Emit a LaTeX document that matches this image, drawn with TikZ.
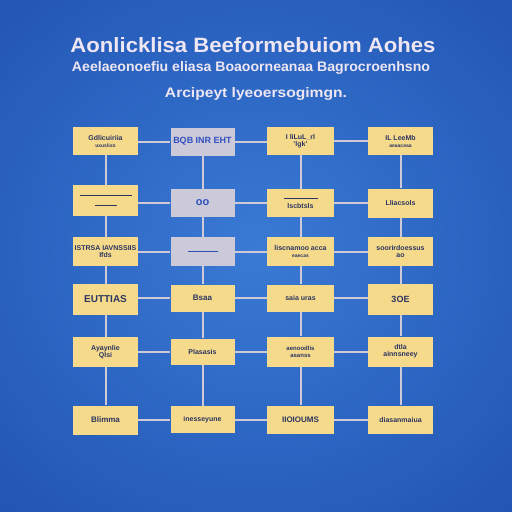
\documentclass[tikz,border=0pt]{standalone}
\usepackage{fontspec}
\setmainfont{Liberation Sans}
\usepackage{graphicx}
\definecolor{bgin}{HTML}{3A7AD4}
\definecolor{bgmid}{HTML}{2A62C0}
\definecolor{bgout}{HTML}{1C46A4}
\definecolor{boxy}{HTML}{F6DA8C}
\definecolor{boxg}{HTML}{CCCAD8}
\definecolor{linec}{HTML}{CFCAD6}
\definecolor{txtd}{HTML}{2B3560}
\definecolor{txtb}{HTML}{3050C0}
\definecolor{titlec}{HTML}{EEE6F2}
\pgfdeclareradialshading{bgshade}{\pgfpoint{0bp}{0bp}}{%
  color(0bp)=(bgin); color(18bp)=(bgmid); color(40bp)=(bgout); color(50bp)=(bgout)}
\tikzset{
  ybox/.style={draw=none,fill=boxy,minimum width=65pt,minimum height=28pt,inner sep=1pt,align=center,font=\fontsize{7}{8}\selectfont\bfseries,text=txtd},
  gbox/.style={ybox,fill=boxg,text=txtb},
  conn/.style={draw=linec,line width=2pt}
}
\begin{document}
\begin{tikzpicture}[x=1pt,y=-1pt]
\useasboundingbox (0,0) rectangle (512,512);
\shade[shading=bgshade] (-80,-60) rectangle (592,560);
% titles
\node[text=titlec,font=\bfseries] (t1) at (253,45) {\resizebox{365pt}{15pt}{Aonlicklisa Beeformebuiom Aohes}};
\node[text=titlec,font=\bfseries] (t2) at (251,68) {\resizebox{358pt}{10pt}{Aeelaeonoefiu eliasa Boaoorneanaa Bagrocroenhsno}};
\node[text=titlec,font=\bfseries] (t3) at (256,94) {\resizebox{182pt}{10pt}{Arcipeyt lyeoersogimgn.}};
% nodes
\node[ybox] (a1) at (105.5,141) {Gdlicuiriia\\[-1pt]{\fontsize{5}{6}\selectfont uxuslixo}};
\node[gbox,minimum width=64pt] (b1) at (202.5,141.5) {\fontsize{9}{10}\selectfont BQB INR EHT};
\node[ybox,minimum width=67pt] (c1) at (300.5,141) {I liLuL\_rl\\[-1pt]'lgk'};
\node[ybox] (d1) at (400.5,141) {IL LeeMb\\[-1pt]{\fontsize{5}{6}\selectfont aeaaceaa}};

\node[ybox,minimum height=31pt] (a2) at (105.5,200.5) {\rule{52pt}{1.2pt}\\[2pt]\rule{22pt}{0.8pt}};
\node[gbox,minimum width=64pt] (b2) at (202.5,203) {\fontsize{11}{11}\selectfont oo};
\node[ybox,minimum width=67pt] (c2) at (300.5,203) {\rule{34pt}{0.8pt}\\[2pt]lscbtsls};
\node[ybox,minimum height=29pt] (d2) at (400.5,203) {Lliacsols};

\node[ybox,minimum height=29pt] (a3) at (105.5,251.5) {ISTRSA IAVNSSIIS\\[-1pt]Ifds};
\node[gbox,minimum width=64pt,minimum height=29pt] (b3) at (202.5,251.5) {\textcolor{txtb}{\rule{30pt}{1.5pt}}};
\node[ybox,minimum width=67pt,minimum height=29pt] (c3) at (300.5,251.5) {liscnamoo acca\\[-1pt]{\fontsize{5}{6}\selectfont eaecas}};
\node[ybox,minimum height=29pt] (d3) at (400.5,251.5) {soorirdoessus\\[-1pt]ao};

\node[ybox,minimum height=31pt] (a4) at (105.5,299.5) {\fontsize{10}{11}\selectfont EUTTIAS};
\node[ybox,minimum width=64pt,minimum height=27pt] (b4) at (202.5,298) {\fontsize{8}{9}\selectfont Bsaa};
\node[ybox,minimum width=67pt,minimum height=27pt] (c4) at (300.5,298) {saia uras};
\node[ybox,minimum height=31pt] (d4) at (400.5,299.5) {\fontsize{9}{10}\selectfont 3OE};

\node[ybox,minimum height=30pt] (a5) at (105.5,352) {Ayaynlie\\[-1pt]QIsi};
\node[ybox,minimum width=64pt,minimum height=26pt] (b5) at (202.5,351.5) {Plasasis};
\node[ybox,minimum width=67pt,minimum height=30pt] (c5) at (300.5,351.5) {\fontsize{6}{7}\selectfont aenoodlis\\[-1pt]\fontsize{6}{7}\selectfont asanss};
\node[ybox,minimum height=30pt] (d5) at (400.5,351.5) {dtla\\[-1pt]ainnsneey};

\node[ybox,minimum height=29pt] (a6) at (105.5,420) {\fontsize{8}{9}\selectfont Blimma};
\node[ybox,minimum width=64pt,minimum height=27pt] (b6) at (202.5,419.5) {inesseyune};
\node[ybox,minimum width=67pt,minimum height=28pt] (c6) at (300.5,419.5) {\fontsize{8}{9}\selectfont IIOIOUMS};
\node[ybox,minimum height=28pt] (d6) at (400.5,419.5) {diasanmaiua};

% connectors
\foreach \r in {1,...,6}{
  \draw[conn] (a\r.east |- b\r.west) -- (b\r.west);
  \draw[conn] (b\r.east) -- (c\r.west |- b\r.east);
  \draw[conn] (c\r.east) -- (d\r.west |- c\r.east);
}
\foreach \c in {a,b,c,d}{
  \foreach \r/\s in {1/2,2/3,3/4,4/5,5/6}{
    \draw[conn] (\c\r) -- (\c\s);
  }
}
\end{tikzpicture}
\end{document}
